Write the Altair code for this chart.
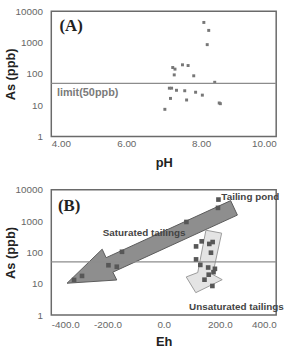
import altair as alt
import pandas as pd

# Panel A: dissolved arsenic versus pH
ph_a = [8.07, 8.20, 8.16, 7.50, 7.65, 7.24, 7.30, 7.28, 7.80, 8.36, 7.15,
        7.21, 7.34, 7.56, 7.85, 8.03, 7.18, 7.61, 8.48, 8.51, 7.03]
as_a = [4400, 2450, 860, 195, 185, 160, 142, 93, 87, 54, 35,
        35, 30, 29, 26, 21, 16.5, 14.7, 11.8, 11.2, 7.4]

# Panel B: dissolved arsenic versus Eh (mV)
eh_b = [194.6, 193, 80.6, -148.5, -196.7, -167, -290.7, -319,
        135, 115, 174, 162, 168, 115, 130, 158, 182, 177, 160, 145, 173]
as_b = [4880, 2650, 940, 105, 39, 35, 17.8, 13.2,
        226, 156, 215, 187, 98, 60, 40, 33, 30, 23.5, 19.5, 13.5, 8.5]

LIMIT = 50
y_ticks = [1, 10, 100, 1000, 10000]
ph_ticks = [4, 6, 8, 10]
eh_ticks = [-400, -200, 0, 200, 400]

# Trend arrows drawn as closed outlines (Eh, As)
sat_arrow_eh = [238, -205, -219, -344, -167, -181, 262, 238]
sat_arrow_as = [4520, 68, 127, 10.4, 13.2, 23.5, 1560, 4520]
unsat_arrow_eh = [150, 206, 174, 208, 114, 80, 121, 150]
unsat_arrow_as = [513, 413, 19.8, 13.5, 5.2, 16.5, 22.8, 513]

FONT = "Liberation Sans"
W, H = 228, 127

y_scale = alt.Scale(type="log", domain=[1, 10000], nice=False)


def y_axis():
    return alt.Axis(values=y_ticks, format="d", title="As (ppb)", ticks=False,
                    grid=False, domain=False, labelPadding=9,
                    labelColor="#666", labelFont=FONT, labelFontSize=10,
                    titleFont=FONT, titleFontSize=13, titleFontWeight="bold",
                    titleColor="#222", titleAngle=-90, titleX=-41,
                    titleY=H / 2, titleBaseline="middle", titleAlign="center")


def x_axis(values, title, label_expr, label_pad, title_pad):
    return alt.Axis(values=values, title=title, ticks=False, grid=False,
                    domain=False, labelPadding=label_pad,
                    labelExpr=label_expr,
                    labelColor="#666", labelFont=FONT, labelFontSize=10,
                    titleFont=FONT, titleFontSize=13, titleFontWeight="bold",
                    titleColor="#222", titlePadding=title_pad)


# ---- Panel A ----
df_a = pd.DataFrame({"pH": ph_a, "As": as_a})
xa = alt.X("pH:Q", scale=alt.Scale(domain=[4, 10], nice=False),
           axis=x_axis(ph_ticks, "pH", "format(datum.value, '.2f')", 2, 8))

pts_a = alt.Chart(df_a).mark_square(size=9, color="#777", opacity=1).encode(
    x=xa, y=alt.Y("As:Q", scale=y_scale, axis=y_axis()))

limit_a = alt.Chart(pd.DataFrame({"As": [LIMIT]})).mark_rule(
    color="#8c8c8c", strokeWidth=1.2).encode(y=alt.Y("As:Q", scale=y_scale))

limit_txt = alt.Chart(pd.DataFrame({"pH": [4.15], "As": [24],
                                    "t": ["limit(50ppb)"]})).mark_text(
    align="left", baseline="middle", font=FONT, fontSize=11,
    fontWeight="bold", color="#7a7a7a").encode(
    x=alt.X("pH:Q"), y=alt.Y("As:Q", scale=y_scale), text="t:N")

tag_a = alt.Chart(pd.DataFrame({"pH": [4.22], "As": [3400],
                                "t": ["(A)"]})).mark_text(
    align="left", baseline="middle", font="Liberation Serif", fontSize=17,
    fontWeight="bold", color="#222").encode(
    x=alt.X("pH:Q"), y=alt.Y("As:Q", scale=y_scale), text="t:N")

panel_a = alt.layer(pts_a, limit_a, limit_txt, tag_a).properties(
    width=W, height=H)

# ---- Panel B ----
eh_expr = "replace(format(datum.value, '.1f'), '\u2212', '-')"
xb_scale = alt.Scale(domain=[-400, 400], nice=False)
xb = alt.X("Eh:Q", scale=xb_scale,
           axis=x_axis(eh_ticks, "Eh", eh_expr, 5, 6))

df_sat = pd.DataFrame({"Eh": sat_arrow_eh, "As": sat_arrow_as,
                       "i": range(len(sat_arrow_eh))})
df_unsat = pd.DataFrame({"Eh": unsat_arrow_eh, "As": unsat_arrow_as,
                         "i": range(len(unsat_arrow_eh))})

arrow_sat = alt.Chart(df_sat).mark_line(
    fill="#8e8e8e", stroke="#5a5a5a", strokeWidth=1).encode(
    x=xb, y=alt.Y("As:Q", scale=y_scale, axis=y_axis()), order="i:Q")

arrow_unsat = alt.Chart(df_unsat).mark_line(
    fill="#e4e4e4", stroke="#9a9a9a", strokeWidth=1).encode(
    x=alt.X("Eh:Q", scale=xb_scale), y=alt.Y("As:Q", scale=y_scale),
    order="i:Q")

limit_b = alt.Chart(pd.DataFrame({"As": [LIMIT]})).mark_rule(
    color="#8c8c8c", strokeWidth=1.2).encode(y=alt.Y("As:Q", scale=y_scale))

df_b = pd.DataFrame({"Eh": eh_b, "As": as_b})
pts_b = alt.Chart(df_b).mark_square(size=22, color="#575757",
                                    opacity=1).encode(
    x=alt.X("Eh:Q", scale=xb_scale), y=alt.Y("As:Q", scale=y_scale))

labels_b = pd.DataFrame({
    "Eh": [205, -217, 90, -376],
    "As": [6000, 410, 1.8, 2985],
    "t": ["Tailing pond", "Saturated tailings", "Unsaturated tailings", "(B)"],
})
notes_b = alt.Chart(labels_b.iloc[:3]).mark_text(
    align="left", baseline="middle", font=FONT, fontSize=10,
    fontWeight="bold", color="#444").encode(
    x=alt.X("Eh:Q", scale=xb_scale), y=alt.Y("As:Q", scale=y_scale),
    text="t:N")
tag_b = alt.Chart(labels_b.iloc[3:]).mark_text(
    align="left", baseline="middle", font="Liberation Serif", fontSize=17,
    fontWeight="bold", color="#222").encode(
    x=alt.X("Eh:Q", scale=xb_scale), y=alt.Y("As:Q", scale=y_scale),
    text="t:N")

panel_b = alt.layer(arrow_sat, arrow_unsat, limit_b, pts_b, notes_b,
                    tag_b).properties(width=W, height=H)

chart = alt.vconcat(panel_a, panel_b, spacing=14).properties(
    padding={"left": 4, "top": 3, "right": 5, "bottom": 0},
    background="white",
).configure_view(stroke="#6a6a6a", strokeWidth=1.5).resolve_scale(
    x="independent")

chart.save("out.html", embed_options={"renderer": "svg", "actions": False})
